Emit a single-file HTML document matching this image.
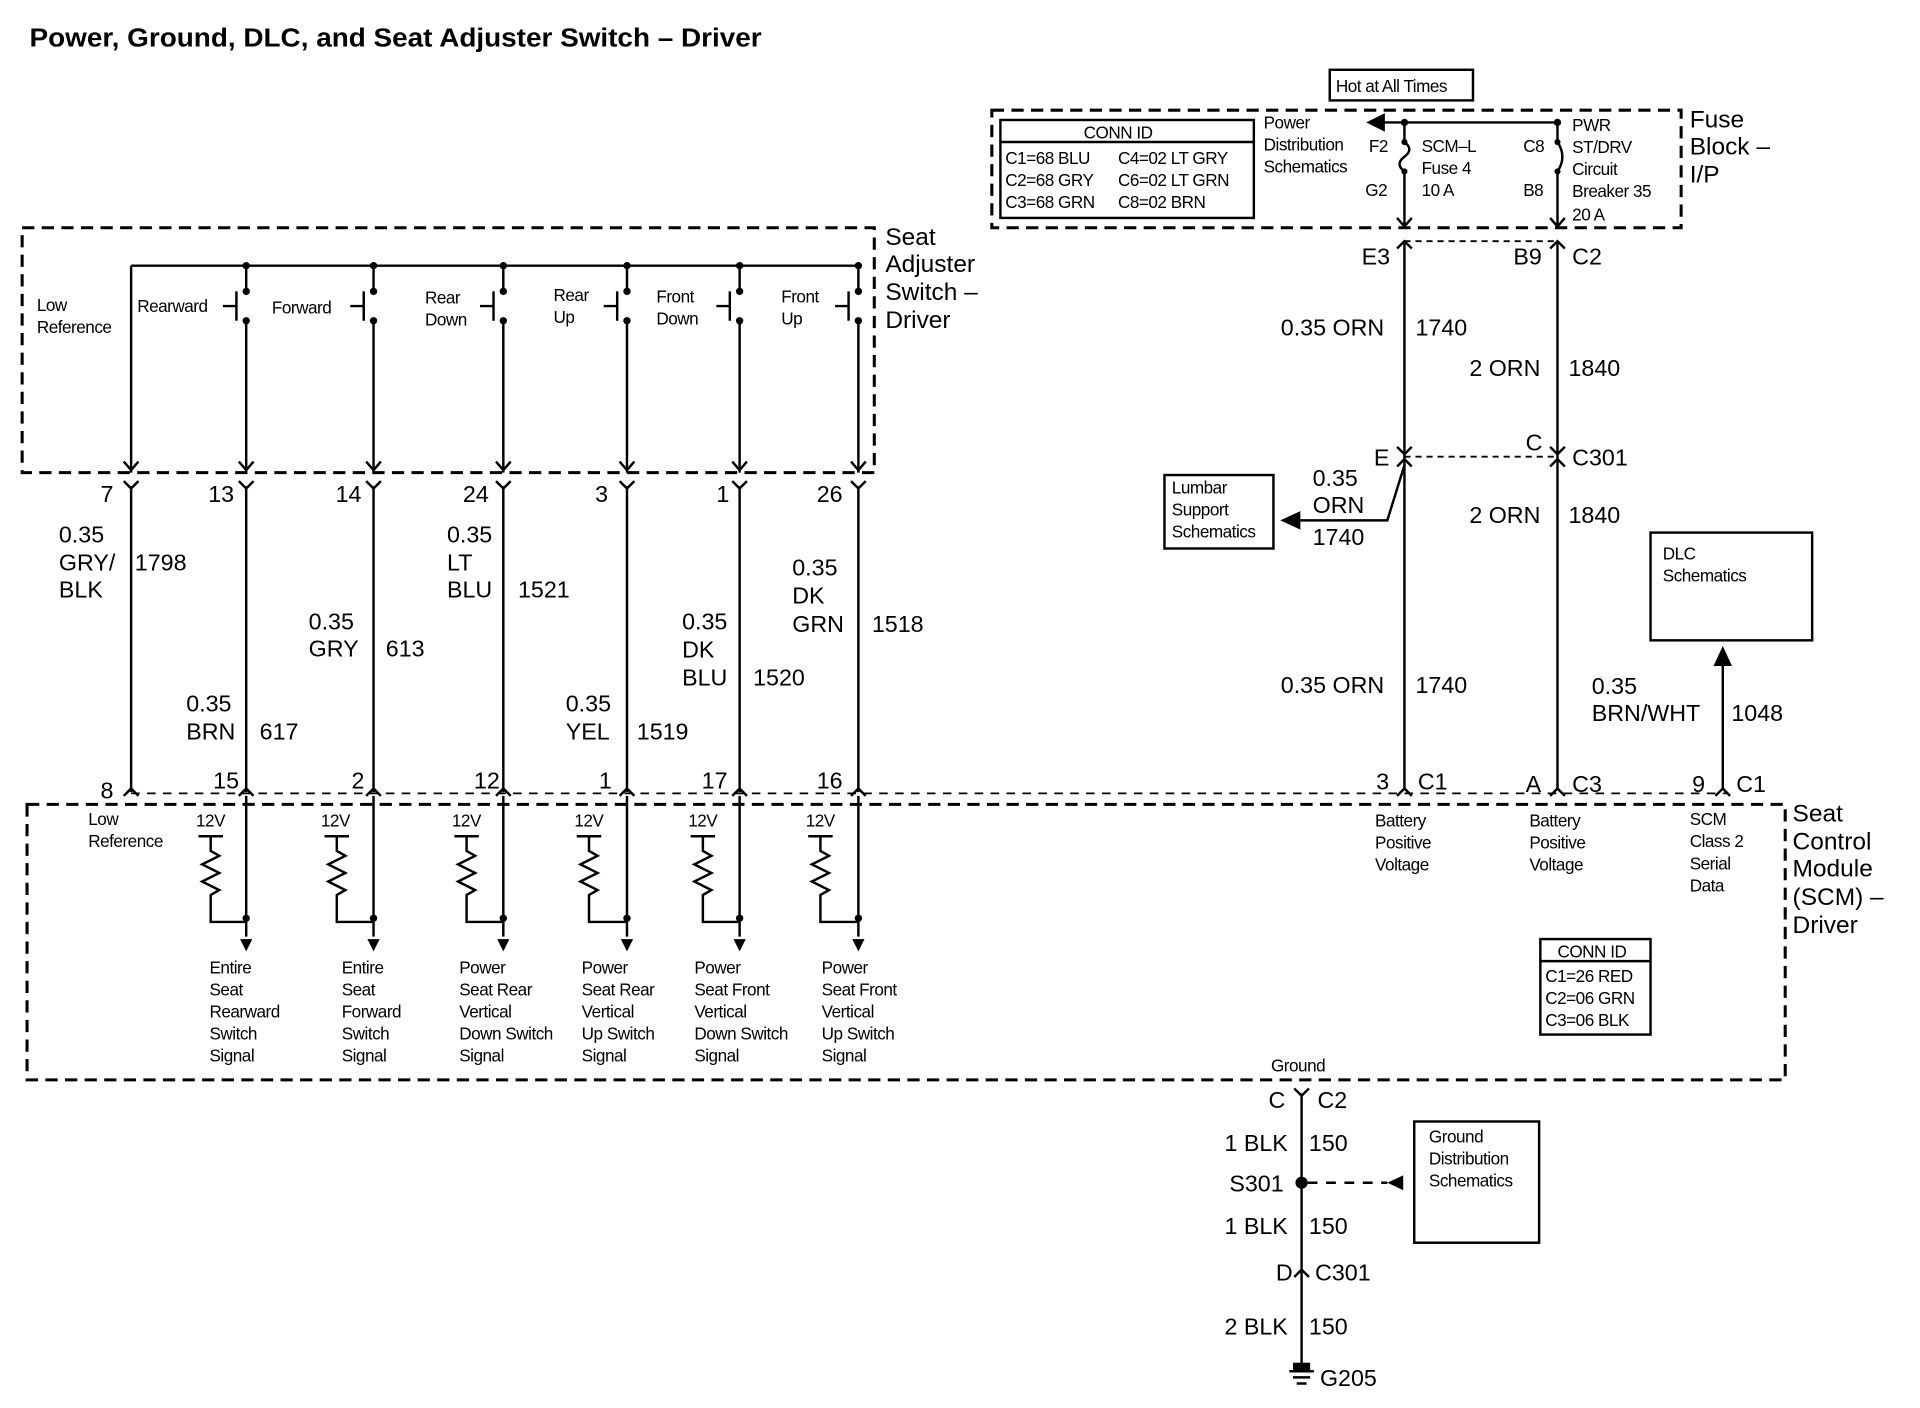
<!DOCTYPE html>
<html><head><meta charset="utf-8"><style>
html,body{margin:0;padding:0;background:#fff}
svg{display:block}
text{font-family:"Liberation Sans",Arial,sans-serif;fill:#000}
.t{font-size:21px;font-weight:bold}
.w{font-size:19px}
.s{font-size:14px;letter-spacing:-0.4px}
.l{font-size:20px}
</style></head><body>
<svg width="1920" height="1408" viewBox="0 0 1568 1150" xmlns="http://www.w3.org/2000/svg">
<g stroke="#000" fill="none" stroke-width="2">
<rect x="810" y="90" width="563" height="96" stroke-dasharray="10,6" stroke-width="2.5"/>
<rect x="18" y="186" width="696" height="200" stroke-dasharray="10,6" stroke-width="2.5"/>
<rect x="22" y="657" width="1436" height="225" stroke-dasharray="10,6" stroke-width="2.5"/>
<line x1="107" y1="648" x2="1410" y2="648" stroke-dasharray="7,6" stroke-width="1.5"/>
<line x1="1147" y1="197" x2="1272" y2="197" stroke-dasharray="5,4" stroke-width="1.5"/>
<line x1="1147" y1="373" x2="1272" y2="373" stroke-dasharray="5,4" stroke-width="1.5"/>
<rect x="1086" y="57" width="117" height="25"/>
<rect x="817" y="98" width="207" height="80"/>
<line x1="817" y1="116" x2="1024" y2="116"/>
<rect x="951" y="388" width="89" height="60"/>
<rect x="1348" y="435" width="132" height="88"/>
<rect x="1258" y="767" width="90" height="78"/>
<line x1="1258" y1="785" x2="1348" y2="785"/>
<rect x="1155" y="916" width="102" height="99"/>
<line x1="1118" y1="100" x2="1272" y2="100"/>
<path d="M1118 100 l12 -6 v12 z" fill="#000"/>
<line x1="1147" y1="100" x2="1147" y2="116"/>
<path d="M1147 116 q8 6 0 12 q-8 6 0 12"/>
<line x1="1147" y1="140" x2="1147" y2="186"/>
<line x1="1272" y1="100" x2="1272" y2="116"/>
<path d="M1272 116 q8 12 0 24"/>
<line x1="1272" y1="140" x2="1272" y2="186"/>
<path d="M1141 178 l6 7 l6 -7 M1266 178 l6 7 l6 -7"/>
<line x1="1147" y1="197" x2="1147" y2="645"/>
<line x1="1272" y1="197" x2="1272" y2="645"/>
<path d="M1141 203 l6 -6 l6 6 M1266 203 l6 -6 l6 6"/>
<path d="M1141 365 l6 6 l6 -6 M1266 365 l6 6 l6 -6 M1141 381 l6 -6 l6 6 M1266 381 l6 -6 l6 6"/>
<path d="M1147 380 L1133 425 L1058 425"/>
<path d="M1048 425 l13 -6 v12 z" fill="#000"/>
<line x1="1407" y1="645" x2="1407" y2="540"/>
<path d="M1407 530 l-6 13 h12 z" fill="#000"/>
<path d="M1141 650 l6 -6 l6 6 M1266 650 l6 -6 l6 6 M1401 650 l6 -6 l6 6"/>
<line x1="107" y1="217" x2="701" y2="217"/>
<line x1="107" y1="217" x2="107" y2="386"/>
<g fill="#000" stroke="none">
<circle cx="201" cy="217" r="3"/><circle cx="305" cy="217" r="3"/><circle cx="411" cy="217" r="3"/><circle cx="512" cy="217" r="3"/><circle cx="604" cy="217" r="3"/><circle cx="701" cy="217" r="3"/>
<circle cx="201" cy="238" r="3"/><circle cx="305" cy="238" r="3"/><circle cx="411" cy="238" r="3"/><circle cx="512" cy="238" r="3"/><circle cx="604" cy="238" r="3"/><circle cx="701" cy="238" r="3"/>
<circle cx="201" cy="262" r="3"/><circle cx="305" cy="262" r="3"/><circle cx="411" cy="262" r="3"/><circle cx="512" cy="262" r="3"/><circle cx="604" cy="262" r="3"/><circle cx="701" cy="262" r="3"/>
<circle cx="1147" cy="100" r="3"/><circle cx="1272" cy="100" r="3"/>
<circle cx="1147" cy="116" r="2.5"/><circle cx="1147" cy="140" r="2.5"/><circle cx="1272" cy="116" r="2.5"/><circle cx="1272" cy="140" r="2.5"/>
<circle cx="1063" cy="966" r="5"/>
</g>
<path d="M201 217 v21 M201 262 v124 M193 238 v24 M182 250 h11"/>
<path d="M305 217 v21 M305 262 v124 M297 238 v24 M286 250 h11"/>
<path d="M411 217 v21 M411 262 v124 M403 238 v24 M392 250 h11"/>
<path d="M512 217 v21 M512 262 v124 M504 238 v24 M493 250 h11"/>
<path d="M604 217 v21 M604 262 v124 M596 238 v24 M585 250 h11"/>
<path d="M701 217 v21 M701 262 v124 M693 238 v24 M682 250 h11"/>
<path d="M101 377 l6 7 l6 -7 M195 377 l6 7 l6 -7 M299 377 l6 7 l6 -7 M405 377 l6 7 l6 -7 M506 377 l6 7 l6 -7 M598 377 l6 7 l6 -7 M695 377 l6 7 l6 -7"/>
<path d="M107 397 v250 M201 397 v250 M305 397 v250 M411 397 v250 M512 397 v250 M604 397 v250 M701 397 v250"/>
<path d="M101 393 l6 6 l6 -6 M195 393 l6 6 l6 -6 M299 393 l6 6 l6 -6 M405 393 l6 6 l6 -6 M506 393 l6 6 l6 -6 M598 393 l6 6 l6 -6 M695 393 l6 6 l6 -6"/>
<path d="M101 650 l6 -6 l6 6 M195 650 l6 -6 l6 6 M299 650 l6 -6 l6 6 M405 650 l6 -6 l6 6 M506 650 l6 -6 l6 6 M598 650 l6 -6 l6 6 M695 650 l6 -6 l6 6"/>
<path d="M201 650 v115 M305 650 v115 M411 650 v115 M512 650 v115 M604 650 v115 M701 650 v115"/>
<path d="M162 683 h20 M172 683 v12 l7 4 l-14 7 l14 7 l-14 7 l14 7 l-7 4 v22 h29"/>
<path d="M265 683 h20 M275 683 v12 l7 4 l-14 7 l14 7 l-14 7 l14 7 l-7 4 v22 h30"/>
<path d="M371 683 h20 M381 683 v12 l7 4 l-14 7 l14 7 l-14 7 l14 7 l-7 4 v22 h30"/>
<path d="M471 683 h20 M481 683 v12 l7 4 l-14 7 l14 7 l-14 7 l14 7 l-7 4 v22 h31"/>
<path d="M564 683 h20 M574 683 v12 l7 4 l-14 7 l14 7 l-14 7 l14 7 l-7 4 v22 h30"/>
<path d="M660 683 h20 M670 683 v12 l7 4 l-14 7 l14 7 l-14 7 l14 7 l-7 4 v22 h31"/>
<g fill="#000" stroke="none">
<circle cx="201" cy="750" r="3"/><circle cx="305" cy="750" r="3"/><circle cx="411" cy="750" r="3"/><circle cx="512" cy="750" r="3"/><circle cx="604" cy="750" r="3"/><circle cx="701" cy="750" r="3"/>
<path d="M196 767 h10 l-5 10 z M300 767 h10 l-5 10 z M406 767 h10 l-5 10 z M507 767 h10 l-5 10 z M599 767 h10 l-5 10 z M696 767 h10 l-5 10 z"/>
<path d="M1133 966 l13 -6 v12 z"/>
</g>
<line x1="1063" y1="893" x2="1063" y2="1118"/>
<path d="M1057 889 l6 6 l6 -6 M1057 1043 l6 -6 l6 6"/>
<line x1="1068" y1="966" x2="1133" y2="966" stroke-dasharray="8,7"/>
<path d="M1053 1120 h20 M1056 1125 h14 M1059 1130 h8" />
<rect x="1056" y="1113" width="14" height="7" fill="#000" stroke="none"/>
</g>

<text x="24" y="38" class="t" textLength="598" lengthAdjust="spacingAndGlyphs">Power, Ground, DLC, and Seat Adjuster Switch –  Driver</text>
<text x="1091" y="75" class="s">Hot at All Times</text>
<text x="885" y="113" class="s">CONN ID</text>
<text x="821" y="134" class="s">C1=68 BLU</text><text x="913" y="134" class="s">C4=02 LT GRY</text>
<text x="821" y="152" class="s">C2=68 GRY</text><text x="913" y="152" class="s">C6=02 LT GRN</text>
<text x="821" y="170" class="s">C3=68 GRN</text><text x="913" y="170" class="s">C8=02 BRN</text>
<text x="1032" y="105" class="s">Power</text><text x="1032" y="123" class="s">Distribution</text><text x="1032" y="141" class="s">Schematics</text>
<text x="1118" y="124" class="s">F2</text><text x="1115" y="160" class="s">G2</text>
<text x="1161" y="124" class="s">SCM–L</text><text x="1161" y="142" class="s">Fuse 4</text><text x="1161" y="160" class="s">10 A</text>
<text x="1244" y="124" class="s">C8</text><text x="1244" y="160" class="s">B8</text>
<text x="1284" y="107" class="s">PWR</text><text x="1284" y="125" class="s">ST/DRV</text><text x="1284" y="143" class="s">Circuit</text><text x="1284" y="161" class="s">Breaker 35</text><text x="1284" y="180" class="s">20 A</text>
<text x="1380" y="104" class="l">Fuse</text><text x="1380" y="126" class="l">Block –</text><text x="1380" y="149" class="l">I/P</text>
<text x="723" y="200" class="l">Seat</text><text x="723" y="222" class="l">Adjuster</text><text x="723" y="245" class="l">Switch –</text><text x="723" y="268" class="l">Driver</text>
<text x="30" y="254" class="s">Low</text><text x="30" y="272" class="s">Reference</text>
<text x="112" y="255" class="s">Rearward</text><text x="222" y="256" class="s">Forward</text>
<text x="347" y="248" class="s">Rear</text><text x="347" y="266" class="s">Down</text>
<text x="452" y="246" class="s">Rear</text><text x="452" y="264" class="s">Up</text>
<text x="536" y="247" class="s">Front</text><text x="536" y="265" class="s">Down</text>
<text x="638" y="247" class="s">Front</text><text x="638" y="265" class="s">Up</text>
<text x="1112" y="216" class="w">E3</text><text x="1236" y="216" class="w">B9</text><text x="1284" y="216" class="w">C2</text>
<text x="1046" y="274" class="w">0.35 ORN</text><text x="1156" y="274" class="w">1740</text>
<text x="1200" y="307" class="w">2 ORN</text><text x="1281" y="307" class="w">1840</text>
<text x="1122" y="380" class="w">E</text><text x="1246" y="368" class="w">C</text><text x="1284" y="380" class="w">C301</text>
<text x="1072" y="397" class="w">0.35</text><text x="1072" y="419" class="w">ORN</text><text x="1072" y="445" class="w">1740</text>
<text x="957" y="403" class="s">Lumbar</text><text x="957" y="421" class="s">Support</text><text x="957" y="439" class="s">Schematics</text>
<text x="1200" y="427" class="w">2 ORN</text><text x="1281" y="427" class="w">1840</text>
<text x="1358" y="457" class="s">DLC</text><text x="1358" y="475" class="s">Schematics</text>
<text x="1046" y="566" class="w">0.35 ORN</text><text x="1156" y="566" class="w">1740</text>
<text x="1300" y="567" class="w">0.35</text><text x="1300" y="589" class="w">BRN/WHT</text><text x="1414" y="589" class="w">1048</text>
<text x="1124" y="645" class="w">3</text><text x="1158" y="645" class="w">C1</text>
<text x="1246" y="647" class="w">A</text><text x="1284" y="647" class="w">C3</text>
<text x="1382" y="647" class="w">9</text><text x="1418" y="647" class="w">C1</text>
<text x="82" y="410" class="w">7</text><text x="170" y="410" class="w">13</text><text x="274" y="410" class="w">14</text><text x="378" y="410" class="w">24</text><text x="486" y="410" class="w">3</text><text x="585" y="410" class="w">1</text><text x="667" y="410" class="w">26</text>
<text x="82" y="652" class="w">8</text><text x="174" y="644" class="w">15</text><text x="287" y="644" class="w">2</text><text x="387" y="644" class="w">12</text><text x="489" y="644" class="w">1</text><text x="573" y="644" class="w">17</text><text x="667" y="644" class="w">16</text>
<text x="48" y="443" class="w">0.35</text><text x="48" y="466" class="w">GRY/</text><text x="48" y="488" class="w">BLK</text><text x="110" y="466" class="w">1798</text>
<text x="152" y="581" class="w">0.35</text><text x="152" y="604" class="w">BRN</text><text x="212" y="604" class="w">617</text>
<text x="252" y="514" class="w">0.35</text><text x="252" y="536" class="w">GRY</text><text x="315" y="536" class="w">613</text>
<text x="365" y="443" class="w">0.35</text><text x="365" y="466" class="w">LT</text><text x="365" y="488" class="w">BLU</text><text x="423" y="488" class="w">1521</text>
<text x="462" y="581" class="w">0.35</text><text x="462" y="604" class="w">YEL</text><text x="520" y="604" class="w">1519</text>
<text x="557" y="514" class="w">0.35</text><text x="557" y="537" class="w">DK</text><text x="557" y="560" class="w">BLU</text><text x="615" y="560" class="w">1520</text>
<text x="647" y="470" class="w">0.35</text><text x="647" y="493" class="w">DK</text><text x="647" y="516" class="w">GRN</text><text x="712" y="516" class="w">1518</text>
<text x="72" y="674" class="s">Low</text><text x="72" y="692" class="s">Reference</text>
<text x="160" y="675" class="s">12V</text><text x="262" y="675" class="s">12V</text><text x="369" y="675" class="s">12V</text><text x="469" y="675" class="s">12V</text><text x="562" y="675" class="s">12V</text><text x="658" y="675" class="s">12V</text>
<text class="s"><tspan x="171" y="795">Entire</tspan><tspan x="171" y="813">Seat</tspan><tspan x="171" y="831">Rearward</tspan><tspan x="171" y="849">Switch</tspan><tspan x="171" y="867">Signal</tspan></text>
<text class="s"><tspan x="279" y="795">Entire</tspan><tspan x="279" y="813">Seat</tspan><tspan x="279" y="831">Forward</tspan><tspan x="279" y="849">Switch</tspan><tspan x="279" y="867">Signal</tspan></text>
<text class="s"><tspan x="375" y="795">Power</tspan><tspan x="375" y="813">Seat Rear</tspan><tspan x="375" y="831">Vertical</tspan><tspan x="375" y="849">Down Switch</tspan><tspan x="375" y="867">Signal</tspan></text>
<text class="s"><tspan x="475" y="795">Power</tspan><tspan x="475" y="813">Seat Rear</tspan><tspan x="475" y="831">Vertical</tspan><tspan x="475" y="849">Up Switch</tspan><tspan x="475" y="867">Signal</tspan></text>
<text class="s"><tspan x="567" y="795">Power</tspan><tspan x="567" y="813">Seat Front</tspan><tspan x="567" y="831">Vertical</tspan><tspan x="567" y="849">Down Switch</tspan><tspan x="567" y="867">Signal</tspan></text>
<text class="s"><tspan x="671" y="795">Power</tspan><tspan x="671" y="813">Seat Front</tspan><tspan x="671" y="831">Vertical</tspan><tspan x="671" y="849">Up Switch</tspan><tspan x="671" y="867">Signal</tspan></text>
<text class="s"><tspan x="1123" y="675">Battery</tspan><tspan x="1123" y="693">Positive</tspan><tspan x="1123" y="711">Voltage</tspan></text>
<text class="s"><tspan x="1249" y="675">Battery</tspan><tspan x="1249" y="693">Positive</tspan><tspan x="1249" y="711">Voltage</tspan></text>
<text class="s"><tspan x="1380" y="674">SCM</tspan><tspan x="1380" y="692">Class 2</tspan><tspan x="1380" y="710">Serial</tspan><tspan x="1380" y="728">Data</tspan></text>
<text class="l"><tspan x="1464" y="671">Seat</tspan><tspan x="1464" y="694">Control</tspan><tspan x="1464" y="716">Module</tspan><tspan x="1464" y="739">(SCM) –</tspan><tspan x="1464" y="762">Driver</tspan></text>
<text x="1272" y="782" class="s">CONN ID</text>
<text x="1262" y="802" class="s">C1=26 RED</text><text x="1262" y="820" class="s">C2=06 GRN</text><text x="1262" y="838" class="s">C3=06 BLK</text>
<text x="1038" y="875" class="s">Ground</text>
<text x="1036" y="905" class="w">C</text><text x="1076" y="905" class="w">C2</text>
<text x="1000" y="940" class="w">1 BLK</text><text x="1069" y="940" class="w">150</text>
<text x="1004" y="973" class="w">S301</text>
<text x="1167" y="933" class="s">Ground</text><text x="1167" y="951" class="s">Distribution</text><text x="1167" y="969" class="s">Schematics</text>
<text x="1000" y="1008" class="w">1 BLK</text><text x="1069" y="1008" class="w">150</text>
<text x="1042" y="1046" class="w">D</text><text x="1074" y="1046" class="w">C301</text>
<text x="1000" y="1090" class="w">2 BLK</text><text x="1069" y="1090" class="w">150</text>
<text x="1078" y="1132" class="w">G205</text>
</svg>
</body></html>
